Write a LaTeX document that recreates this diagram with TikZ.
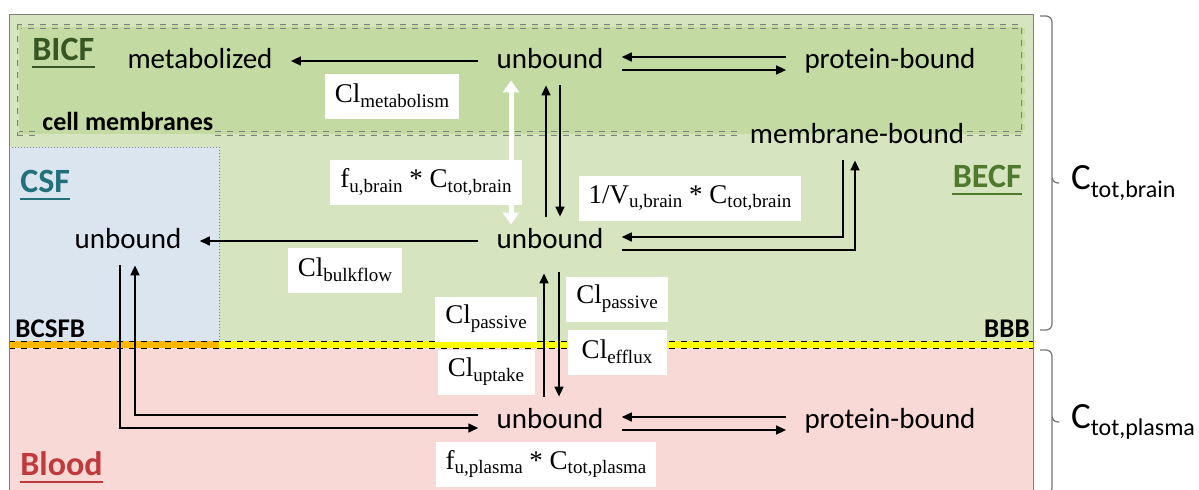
\documentclass[tikz,border=0pt]{standalone}
\usepackage{fontspec}
\setmainfont{Carlito}
\newfontfamily\labelfont{Liberation Serif}
\usetikzlibrary{arrows.meta}
\definecolor{becf}{HTML}{D6E4BF}
\definecolor{bicf}{HTML}{C3DAA2}
\definecolor{csfbg}{HTML}{DAE5F0}
\definecolor{bloodbg}{HTML}{F8D9D6}
\definecolor{bcsfbcol}{HTML}{FFB800}
\definecolor{bbbcol}{HTML}{FFFF00}
\definecolor{bicftxt}{HTML}{375623}
\definecolor{becftxt}{HTML}{4F7A2E}
\definecolor{csftxt}{HTML}{21707A}
\definecolor{bloodtxt}{HTML}{C0393B}
% lowered subscript in the current font
\newcommand\lsub[2][9.5pt]{\raisebox{-0.4ex}{\fontsize{#1}{#1}\selectfont #2}}

\begin{document}
\begin{tikzpicture}
  [x=0.5pt,y=-0.5pt,
   state/.style={font=\fontsize{14.5pt}{16pt}\selectfont,text height=10pt,text depth=3pt,inner xsep=9pt,inner ysep=5.5pt},
   rate/.style={fill=white,font=\labelfont\fontsize{13.5pt}{15pt}\selectfont,minimum height=22.5pt,inner xsep=5pt},
   region/.style={font=\bfseries\fontsize{17pt}{18pt}\selectfont,inner sep=0pt},
   barrier/.style={font=\bfseries\fontsize{13.5pt}{14pt}\selectfont,inner sep=0pt},
   arr/.style={-{Triangle[length=5pt,width=4.5pt]},line width=0.8pt},
   warr/.style={{Triangle[length=6pt,width=8pt]}-{Triangle[length=6pt,width=8pt]},line width=2.5pt,white},
   membrane/.style={draw=gray,dashed,line width=0.4pt,double=bicf,double distance=1.5pt},
   bracket/.style={draw=gray!90!black,line width=0.6pt,rounded corners=3pt}]
  \useasboundingbox (0,0) rectangle (1199,489);

  % compartments
  \fill[becf] (9,14) rectangle (1033,341);
  \fill[bicf] (19,26.5) rectangle (1023,133.5);
  \fill[csfbg] (9,147) rectangle (219,341);
  \fill[bloodbg] (9,348) rectangle (1033,495);
  \fill[bcsfbcol] (9,341) rectangle (219,348);
  \fill[bbbcol] (219,341) rectangle (1033,348);
  \draw[dashed,line width=0.4pt] (9,341) -- (1033,341) (9,348) -- (1033,348);
  \draw[gray,densely dotted,line width=0.5pt] (9,147) -- (219,147) -- (219,341);
  \draw[membrane] (35,133.5) -- (19,133.5) -- (19,26.5) -- (1023,26.5) -- (1023,133.5) -- (967,133.5)
    (215,133.5) -- (737,133.5);
  \draw[gray,line width=0.5pt] (9,495) -- (9,14) -- (1033,14) -- (1033,495);

  % region names
  \node[region,text=bicftxt,anchor=base west] (bicft) at (32,60) {BICF};
  \node[region,text=csftxt,anchor=base west] (csft) at (20,192) {CSF};
  \node[region,text=becftxt,anchor=base east] (becft) at (1022,187) {BECF};
  \node[region,text=bloodtxt,anchor=base west] (bloodt) at (20,475) {Blood};
  \foreach \n/\c in {bicft/bicftxt,csft/csftxt,becft/becftxt,bloodt/bloodtxt}
    \draw[\c,line width=1.3pt] ([yshift=-3.5pt]\n.base west) -- ([yshift=-3.5pt]\n.base east);
  \node[barrier,anchor=base west] (bcsfb) at (15,337) {BCSFB};
  \node[barrier,anchor=base east] (bbb) at (1030,337) {BBB};
  \node[font=\bfseries\fontsize{13pt}{14pt}\selectfont,anchor=base west,inner sep=0pt] (cellm) at (42,130) {cell membranes};

  % drug states
  \node[state] (met) at (200,61) {metabolized};
  \node[state] (ub1) at (550,61) {unbound};
  \node[state] (pb1) at (890,61) {protein-bound};
  \node[state] (mb) at (857,136) {membrane-bound};
  \node[state] (csfu) at (128,241) {unbound};
  \node[state] (ub2) at (550,241) {unbound};
  \node[state] (ub3) at (550,421) {unbound};
  \node[state] (pb2) at (890,421) {protein-bound};

  % exchanges
  \draw[warr,shorten <=-2.5pt,shorten >=-4pt] ([xshift=-19.5pt]ub1.south) -- ([xshift=-19.5pt]ub2.north);
  \draw[arr] (ub1.west) -- (met.east);
  \foreach \a/\b in {ub1/pb1,ub3/pb2} {
    \draw[arr] ([yshift=2pt]\b.west) -- ([yshift=2pt]\a.east);
    \draw[arr] ([yshift=-4.5pt]\a.east) -- ([yshift=-4.5pt]\b.west);
  }
  \draw[arr] ([xshift=-2pt]ub2.north) -- ([xshift=-2pt]ub1.south);
  \draw[arr] ([xshift=5pt]ub1.south) -- ([xshift=5pt]ub2.north);
  \draw[arr,shorten >=4pt] ([xshift=-3pt]ub3.north) -- ([xshift=-3pt]ub2.south);
  \draw[arr,shorten <=3.5pt] ([xshift=4.5pt]ub2.south) -- ([xshift=4.5pt]ub3.north);
  \draw[arr] ([xshift=-7pt]mb.south) |- ([yshift=2pt]ub2.east);
  \draw[arr] ([yshift=-4.5pt]ub2.east) -| ([xshift=-1pt]mb.south);
  \draw[arr] (ub2.west) -- (csfu.east);
  \draw[arr] ([yshift=3pt]ub3.west) -| ([xshift=3.5pt]csfu.south);
  \draw[arr] ([xshift=-4pt]csfu.south) |- ([yshift=-3.5pt]ub3.west);

  % rate labels
  \node[rate] (clmet) at (392,96) {Cl\lsub{metabolism}};
  \node[rate] (fub) at (426,182) {f\lsub{u,brain} * C\lsub{tot,brain}};
  \node[rate] (vub) at (690,198) {1/V\lsub{u,brain} * C\lsub{tot,brain}};
  \node[rate] (clbulk) at (345,270) {Cl\lsub{bulkflow}};
  \node[rate,minimum width=48.5pt] (clpin) at (486,319) {Cl\lsub{passive}};
  \node[rate,minimum width=48.5pt] (clup) at (486,372) {Cl\lsub{uptake}};
  \node[rate,minimum width=49.5pt] (clpout) at (617,299) {Cl\lsub{passive}};
  \node[rate,minimum width=49.5pt] (clef) at (617,352) {Cl\lsub{efflux}};
  \node[rate] (fup) at (546,464) {f\lsub{u,plasma} * C\lsub{tot,plasma}};

  % totals
  \draw[bracket] (1040,16) -| (1052,183) -- (1059,183);
  \draw[bracket] (1052,178) |- (1040,330);
  \draw[bracket] (1040,350) -| (1052,422) -- (1059,422);
  \draw[bracket] (1052,417) |- (1040,494);
  \node[anchor=west,font=\fontsize{18.5pt}{20pt}\selectfont] (ctb) at (1064,183) {C\lsub[12pt]{tot,brain}};
  \node[anchor=west,font=\fontsize{18.5pt}{20pt}\selectfont] (ctp) at (1064,422) {C\lsub[12pt]{tot,plasma}};
\end{tikzpicture}
\end{document}
